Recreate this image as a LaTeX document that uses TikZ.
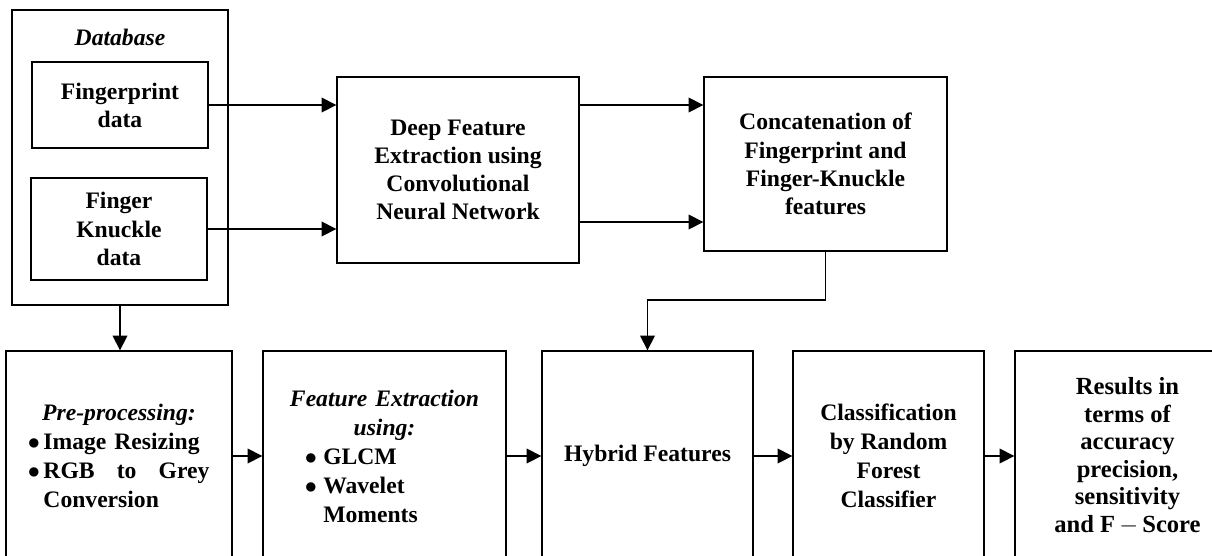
\documentclass[tikz,border=0pt]{standalone}
\usepackage{fontspec}
\setmainfont{Liberation Serif}
\usetikzlibrary{positioning,arrows.meta}

\begin{document}
\begin{tikzpicture}[x=0.025cm,y=-0.025cm,
    box/.style={draw,line width=0.9pt,inner sep=0pt,align=center,
      font=\fontsize{16.8}{20}\selectfont\bfseries},
    lowbox/.style={box,minimum height=5.25cm,
      font=\fontsize{16.8}{20.6}\selectfont\bfseries},
    arr/.style={line width=0.9pt,-{Triangle[length=10.5pt,width=10.5pt]}}]
    \clip (0,0) rectangle (1212,555);

    \node[box,minimum width=5.4cm,minimum height=7.375cm] (db) at (120,157.5) {};
    \node[font=\fontsize{16.8}{20}\selectfont\bfseries\itshape] (dbtitle) at (120,37) {Database};
    \node[box,minimum width=4.4cm,minimum height=2.15cm] (fp) at (120,105) {Fingerprint\\data};
    \node[box,minimum width=4.4cm,minimum height=2.55cm] (fk) at (119,229) {Finger\\Knuckle\\data};
    \node[box,minimum width=6.05cm,minimum height=4.65cm] (dfe) at (458,170)
        {Deep Feature\\Extraction using\\Convolutional\\Neural Network};
    \node[box,minimum width=6.075cm,minimum height=4.35cm] (cc) at (825.5,164)
        {Concatenation of\\Fingerprint and\\Finger-Knuckle\\features};

    \node[lowbox,minimum width=5.65cm,text width=4.55cm,align=left] (pre) at (119,456)
        {\makebox[4.55cm]{\itshape Pre-processing:}\\
         \makebox[11pt][l]{$\bullet$}Image Resizing\\
         \makebox[11pt][l]{$\bullet$}\hbox to 118pt{RGB\hfill to\hfill Grey}\\
         \hspace*{11pt}Conversion};
    \node[lowbox,minimum width=6.075cm,text width=3.975cm,align=left] (fe) at (384.5,456)
        {\makebox[3.975cm]{\itshape Feature Extraction}\\
         \makebox[3.975cm]{\itshape using:}\\
         \makebox[13pt][l]{$\bullet$}GLCM\\
         \makebox[13pt][l]{$\bullet$}Wavelet\\
         \hspace*{13pt}Moments};
    \node[lowbox,minimum width=5.275cm] (hy) at (647.5,456) {Hybrid Features};
    \node[lowbox,minimum width=4.775cm] (cl) at (888.5,456)
        {Classification\\by Random\\Forest\\Classifier};
    \node[lowbox,minimum width=5.625cm,font=\fontsize{17.5}{19.6}\selectfont\bfseries] (rs) at (1127.5,456)
        {Results in\\terms of\\accuracy\\precision,\\sensitivity\\and F\,$-$\,Score};

    \draw[arr] (fp.east) -- (fp.east -| dfe.west);
    \draw[arr] (fk.east) -- (fk.east -| dfe.west);
    \draw[arr] (dfe.east |- 0,105) -- (cc.west |- 0,105);
    \draw[arr] (dfe.east |- 0,222) -- (cc.west |- 0,222);
    \draw[arr] (db.south) -- (db.south |- pre.north);
    \draw[arr] (cc.south) -- (cc.south |- 0,300) -| (hy.north);
    \draw[arr] (pre.east) -- (fe.west);
    \draw[arr] (fe.east) -- (hy.west);
    \draw[arr] (hy.east) -- (cl.west);
    \draw[arr] (cl.east) -- (rs.west);
\end{tikzpicture}
\end{document}
